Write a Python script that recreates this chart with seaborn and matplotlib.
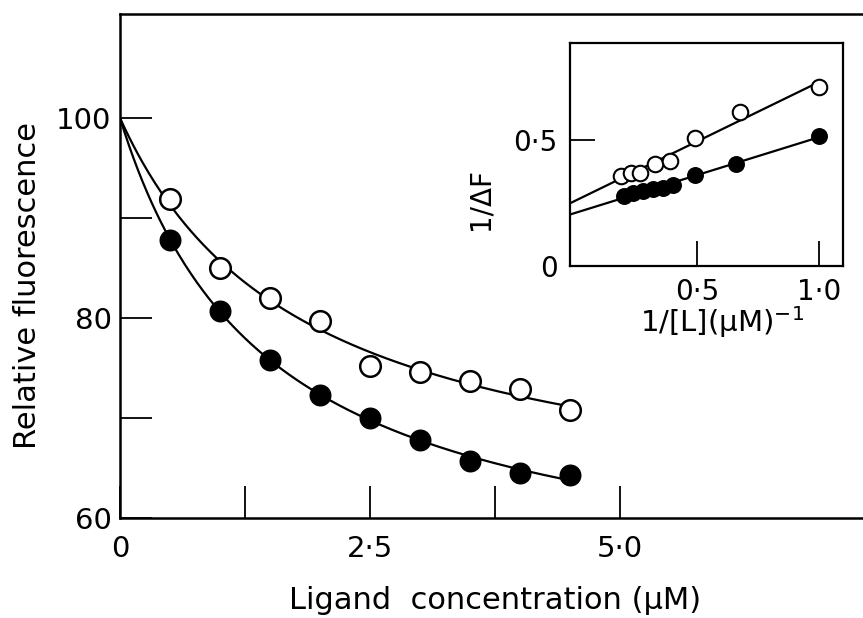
import numpy as np
import pandas as pd
import matplotlib
matplotlib.use("Agg")
import matplotlib.pyplot as plt
import seaborn as sns

# ---------------- data ----------------
conc = [0.5, 1.0, 1.5, 2.0, 2.5, 3.0, 3.5, 4.0, 4.5]
fl_open = [91.9, 85.0, 82.0, 79.7, 75.2, 74.6, 73.7, 72.9, 70.8]
fl_filled = [87.8, 80.7, 75.8, 72.3, 70.0, 67.8, 65.7, 64.5, 64.3]

inv_L_open = [0.19, 0.23, 0.265, 0.33, 0.39, 0.49, 0.675, 1.0]
inv_dF_open = [0.357, 0.371, 0.371, 0.404, 0.417, 0.507, 0.613, 0.711]
inv_L_filled = [0.20, 0.24, 0.28, 0.32, 0.36, 0.40, 0.49, 0.66, 1.0]
inv_dF_filled = [0.277, 0.291, 0.297, 0.304, 0.311, 0.32, 0.36, 0.404, 0.517]

main_xticks = [0, 1.25, 2.5, 3.75, 5.0]
main_xticklabels = ["0", "", "2·5", "", "5·0"]
main_yticks = [60, 70, 80, 90, 100]
main_yticklabels = ["60", "", "80", "", "100"]
inset_xticks = [0.5, 1.0]
inset_xticklabels = ["0·5", "1·0"]
inset_yticks = [0, 0.5]
inset_yticklabels = ["0", "0·5"]

# ---------------- fits derived from the data ----------------
def hyperbola_fit(x, y, f0=100.0):
    x = np.asarray(x, float)
    d = f0 - np.asarray(y, float)
    best = None
    for K in np.linspace(0.05, 10, 4000):
        g = x / (K + x)
        A = (g @ d) / (g @ g)
        r = ((d - A * g) ** 2).sum()
        if best is None or r < best[0]:
            best = (r, A, K)
    return best[1], best[2]

sns.set_style("ticks")
plt.rcParams["font.family"] = ["DejaVu Sans"]
plt.rcParams["mathtext.fontset"] = "dejavusans"
plt.rcParams["text.color"] = "black"
plt.rcParams["axes.labelcolor"] = "black"
plt.rcParams["xtick.color"] = "black"
plt.rcParams["ytick.color"] = "black"

fig = plt.figure(figsize=(8.63, 6.18), dpi=100)
W, H = 863.0, 618.0
ax = fig.add_axes([120 / W, (H - 518) / H, (W - 120) / W, (518 - 14) / H])

df_open = pd.DataFrame({"x": conc, "y": fl_open})
df_filled = pd.DataFrame({"x": conc, "y": fl_filled})

for xs, ys in [(conc, fl_open), (conc, fl_filled)]:
    A, K = hyperbola_fit(xs, ys)
    xc = np.linspace(0, max(xs), 300)
    curve = pd.DataFrame({"x": xc, "y": 100 - A * xc / (K + xc)})
    sns.lineplot(data=curve, x="x", y="y", ax=ax, color="black", lw=1.6, zorder=2)

sns.scatterplot(data=df_open, x="x", y="y", ax=ax, s=220, facecolor="white",
                edgecolor="black", linewidth=1.8, zorder=3)
sns.scatterplot(data=df_filled, x="x", y="y", ax=ax, s=220, color="black",
                edgecolor="black", linewidth=1.0, zorder=3)

ax.set_xlim(0, (W - 120) / 100.0)
ax.set_ylim(60, 110.4)
ax.set_xticks(main_xticks)
ax.set_xticklabels(main_xticklabels)
ax.set_yticks(main_yticks)
ax.set_yticklabels(main_yticklabels)
ax.tick_params(direction="in", length=23, width=1.3, labelsize=21, colors="black")
ax.tick_params(axis="x", pad=12)
ax.tick_params(axis="y", pad=6)
for s in ["left", "bottom", "top"]:
    ax.spines[s].set_linewidth(1.8)
    ax.spines[s].set_color("black")
ax.spines["right"].set_visible(False)
ax.set_xlabel("Ligand  concentration (μM)", fontsize=22, color="black")
ax.set_ylabel("Relative fluorescence", fontsize=22, color="black")
ax.xaxis.set_label_coords(0.505, -0.135)
ax.yaxis.set_label_coords(-0.105, 0.462)

# ---------------- inset (double reciprocal) ----------------
iax = fig.add_axes([570 / W, (H - 266) / H, 273 / W, 223 / H])
ixlim = (-0.02, 1.098)
for xs, ys in [(inv_L_open, inv_dF_open), (inv_L_filled, inv_dF_filled)]:
    m, c = np.polyfit(xs, ys, 1)
    xl = np.array([ixlim[0] - 0.05, max(xs)])
    line = pd.DataFrame({"x": xl, "y": m * xl + c})
    sns.lineplot(data=line, x="x", y="y", ax=iax, color="black", lw=1.6, zorder=2)

sns.scatterplot(x=inv_L_open, y=inv_dF_open, ax=iax, s=125, facecolor="white",
                edgecolor="black", linewidth=1.5, zorder=3)
sns.scatterplot(x=inv_L_filled, y=inv_dF_filled, ax=iax, s=125, color="black",
                edgecolor="black", linewidth=1.0, zorder=3)

iax.set_xlim(*ixlim)
iax.set_ylim(0, 0.885)
iax.set_xticks(inset_xticks)
iax.set_xticklabels(inset_xticklabels)
iax.set_yticks(inset_yticks)
iax.set_yticklabels(inset_yticklabels)
iax.tick_params(direction="in", length=18, width=1.3, labelsize=20, colors="black")
iax.tick_params(axis="x", pad=9)
iax.tick_params(axis="y", pad=9)
for s in iax.spines.values():
    s.set_linewidth(1.6)
    s.set_color("black")
iax.set_xlabel("1/[L](μM)$^{-1}$", fontsize=21, color="black")
iax.set_ylabel("1/ΔF", fontsize=20, color="black")
iax.xaxis.set_label_coords(0.557, -0.17)
iax.yaxis.set_label_coords(-0.275, 0.30)

fig.savefig("out.png", dpi=100, facecolor="white")
